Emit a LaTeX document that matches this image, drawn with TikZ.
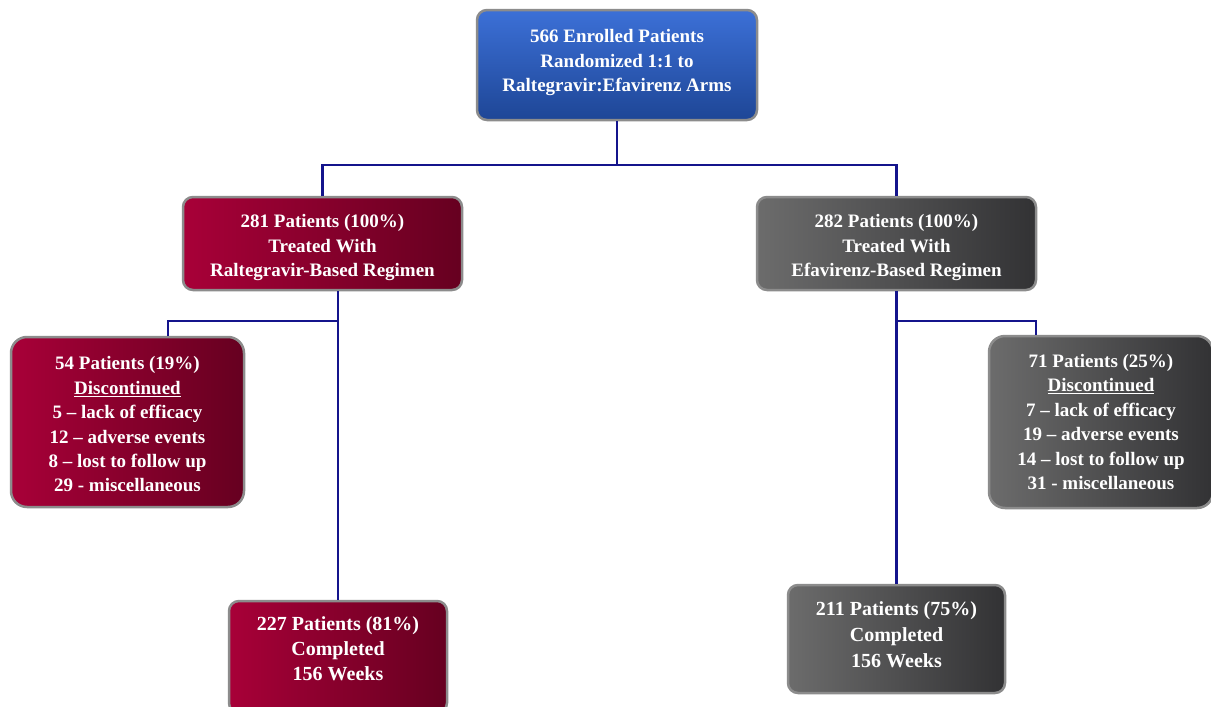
\documentclass[tikz,border=0pt]{standalone}
\usepackage{fontspec}
\setmainfont{Liberation Serif}
\usetikzlibrary{calc}
\definecolor{redL}{RGB}{168,0,56}
\definecolor{redR}{RGB}{102,0,32}
\definecolor{grayL}{RGB}{108,108,108}
\definecolor{grayR}{RGB}{50,50,52}
\definecolor{blueT}{RGB}{60,112,215}
\definecolor{blueB}{RGB}{30,70,150}
\definecolor{navy}{RGB}{20,20,140}
\definecolor{rim}{RGB}{140,140,140}
\tikzset{
  box/.style={draw=rim, line width=2.5pt, rounded corners=10pt, align=center,
    text=white, font=\fontsize{19}{24.5}\selectfont\bfseries, inner sep=0pt},
  redbox/.style={box, left color=redL, right color=redR},
  graybox/.style={box, left color=grayL, right color=grayR},
  bluebox/.style={box, top color=blueT, bottom color=blueB},
  small/.style={font=\fontsize{19}{24.4}\selectfont\bfseries, rounded corners=16pt},
  big/.style={font=\fontsize{20}{25}\selectfont\bfseries},
  link/.style={draw=navy, line width=2.5pt}
}
\begin{document}
\begin{tikzpicture}[x=1pt,y=-1pt]
\useasboundingbox (0,0) rectangle (1211,707);
\fill[white] (0,0) rectangle (1211,707);

\node[bluebox, minimum width=280pt, minimum height=110pt] (top) at (617,65)
  {566 Enrolled Patients\\Randomized 1:1 to\\Raltegravir:Efavirenz Arms\\[-16pt]\mbox{}};
\node[redbox, minimum width=279pt, minimum height=93pt] (lt) at (322.5,243.5)
  {\rule{0pt}{22pt}281 Patients (100\%)\\Treated With\\Raltegravir-Based Regimen};
\node[graybox, minimum width=279pt, minimum height=93pt] (rt) at (896.5,243.5)
  {\rule{0pt}{22pt}282 Patients (100\%)\\Treated With\\Efavirenz-Based Regimen};
\node[redbox, small, minimum width=233pt, minimum height=170pt] (ld) at (127.5,422)
  {\rule{0pt}{18pt}54 Patients (19\%)\\\underline{Discontinued}\\5 -- lack of efficacy\\12 -- adverse events\\8 -- lost to follow up\\29 - miscellaneous};
\node[graybox, small, minimum width=224pt, minimum height=172pt] (rd) at (1101,422)
  {71 Patients (25\%)\\\underline{Discontinued}\\7 -- lack of efficacy\\19 -- adverse events\\14 -- lost to follow up\\31 - miscellaneous};
\node[redbox, big, minimum width=218pt, minimum height=112pt] (lb) at (338,657)
  {227 Patients (81\%)\\Completed\\156 Weeks\\[-9pt]\mbox{}};
\node[graybox, big, font=\fontsize{20}{26}\selectfont\bfseries, minimum width=217pt, minimum height=108pt] (rb) at (896.5,639)
  {211 Patients (75\%)\\Completed\\156 Weeks\\[-18pt]\mbox{}};

\coordinate (j0) at (617,165);
\coordinate (jl) at (338,321);
\coordinate (jr) at (897,321);

\draw[link] (top.south) -- (j0);
\draw[link] (j0) -| (lt.north);
\draw[link] (j0) -| (rt.north);
\draw[link] (lt.south -| lb.north) -- (lb.north);
\draw[link] (jl) -| ([xshift=40.5pt]ld.north);
\draw[link] (rt.south) -- (rb.north);
\draw[link] (jr) -| ([xshift=-65pt]rd.north);
\end{tikzpicture}
\end{document}
